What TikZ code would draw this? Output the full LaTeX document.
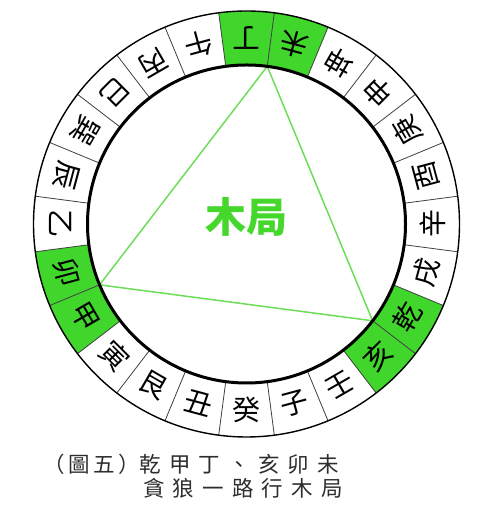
\documentclass[tikz,border=0pt]{standalone}
\usepackage{fontspec}
\newfontfamily\cjk{Noto Sans CJK TC}
\definecolor{ringgreen}{RGB}{64,214,44}
\definecolor{trigreen}{RGB}{110,222,90}
\definecolor{titlegreen}{RGB}{70,215,45}
\definecolor{captiongray}{RGB}{45,45,45}
\tikzset{
  ringchar/.style={font=\cjk\fontsize{28}{28}\selectfont, inner sep=0pt, text=black},
  divider/.style={draw=black!75, line width=0.8pt},
  outerring/.style={draw=black, line width=1.4pt},
  innerring/.style={draw=black, line width=3pt},
  triline/.style={draw=trigreen, line width=1.5pt, line join=round},
  centertitle/.style={font=\cjk\bfseries\fontsize{41}{41}\selectfont, text=titlegreen, inner sep=0pt},
  captiontext/.style={font=\cjk\fontsize{21.5}{21.5}\selectfont\addfontfeature{LetterSpace=38}, text=captiongray, inner sep=0pt}
}
\begin{document}
\begin{tikzpicture}[x=1pt,y=1pt]
\useasboundingbox (0,0) rectangle (486,518);
\fill[white] (0,0) rectangle (486,518);
\def\rin{159}
\def\rout{213}
\def\rmid{186}
\begin{scope}[shift={(246.5,294)}]
  \coordinate (O) at (0,0);
  % green sectors
  \foreach \a in {90,75,-30,-45,-150,-165}{
    \pgfmathsetmacro\sa{\a-7.5}
    \pgfmathsetmacro\ea{\a+7.5}
    \fill[ringgreen] (\sa:\rin) arc[start angle=\sa, end angle=\ea, radius=\rin]
      -- (\ea:\rout) arc[start angle=\ea, end angle=\sa, radius=\rout] -- cycle;
  }
  % dividers
  \foreach \i in {0,...,23}{
    \pgfmathsetmacro\da{\i*15+7.5}
    \draw[divider] (\da:\rin) -- (\da:\rout);
  }
  % ring characters
  \foreach \ch [count=\i from 0] in {丁,未,坤,申,庚,酉,辛,戌,乾,亥,壬,子,癸,丑,艮,寅,甲,卯,乙,辰,巽,巳,丙,午}{
    \pgfmathsetmacro\ang{90-15*\i}
    \pgfmathsetmacro\rot{\ang+90}
    \node[ringchar, rotate=\rot] (m\i) at (\ang:\rmid) {\ch};
  }
  % triangle vertices
  \coordinate (vDing) at (82.5:\rin);
  \coordinate (vJia) at (-157.5:\rin);
  \coordinate (vQian) at (-37.5:\rin);
  \draw[triline] (vDing) -- (vJia) -- (vQian) -- cycle;
  % circles
  \draw[outerring] (O) circle[radius=\rout];
  \draw[innerring] (O) circle[radius=\rin];
  \node[centertitle] (title) at (0,7) {木局};
\end{scope}
\node[captiontext, anchor=west] (cap1) at (43,54) {{\addfontfeature{LetterSpace=16}（圖五）}乾甲丁、亥卯未};
\node[captiontext, anchor=west] (cap2) at (143,30) {貪狼一路行木局};
\end{tikzpicture}
\end{document}
